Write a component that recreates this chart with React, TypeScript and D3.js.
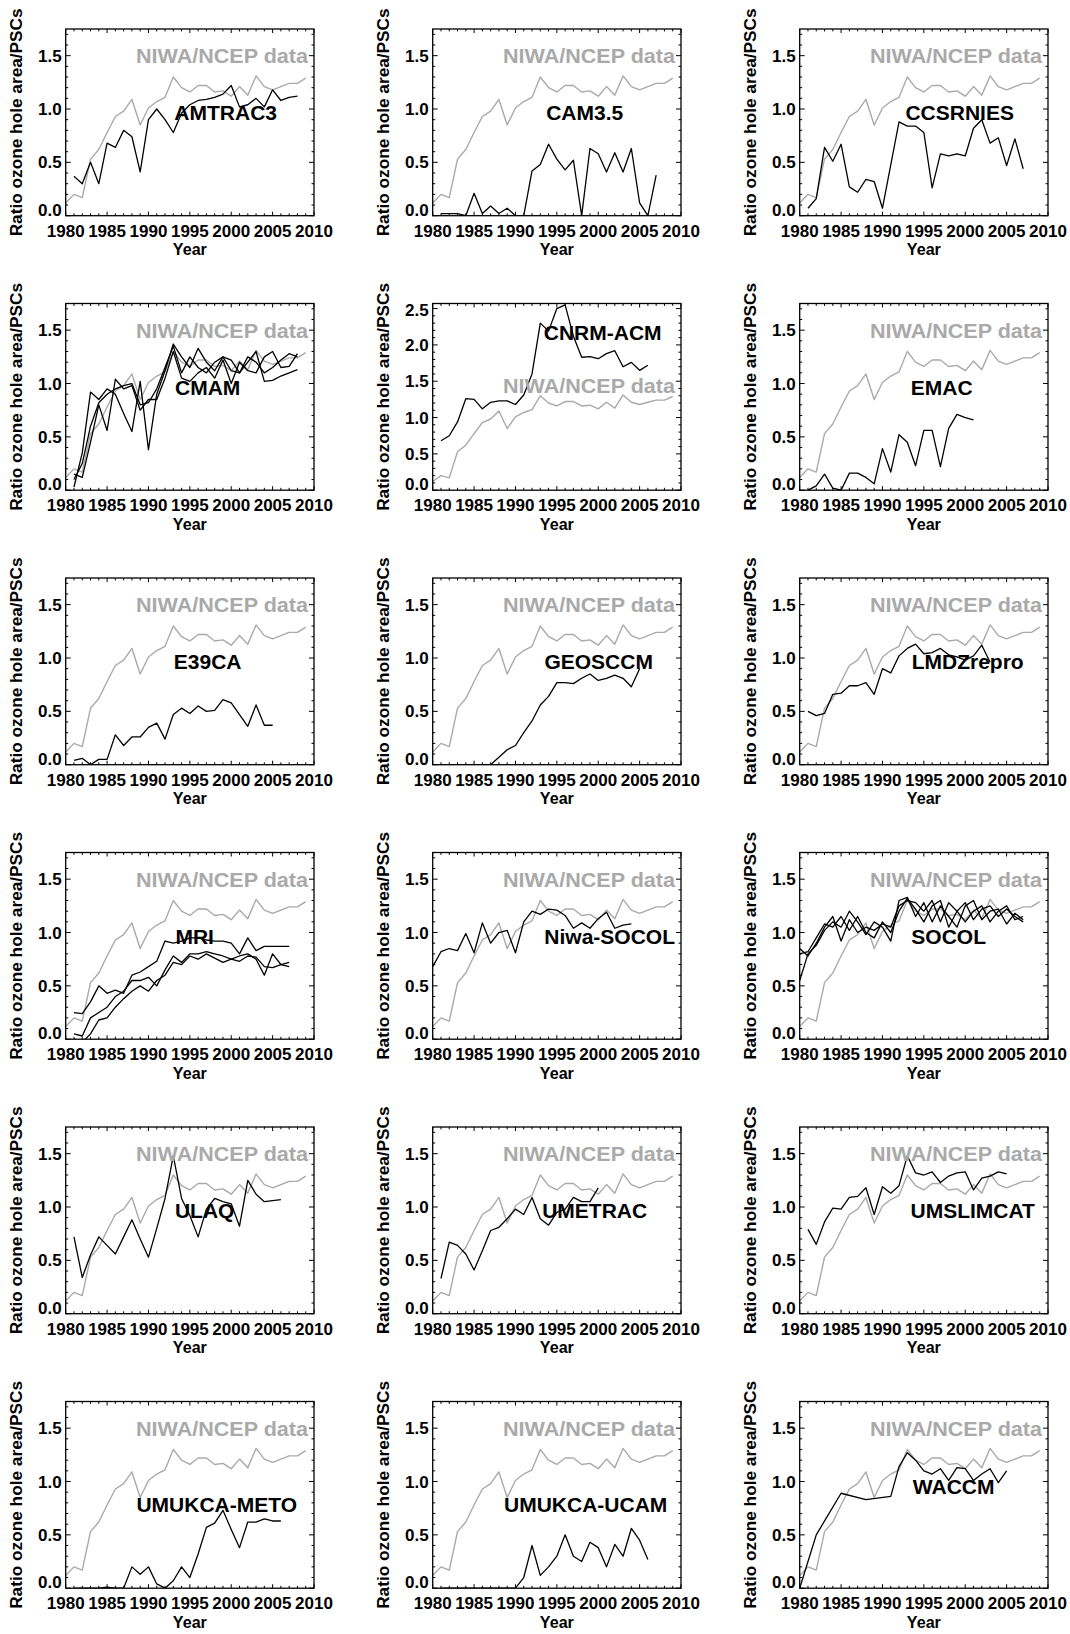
import * as d3 from "d3";

// Ratio of ozone hole area to PSC area, observations (NIWA/NCEP), 1980-2009
const NIWA_START = 1980;
const niwa = [0.12, 0.2, 0.17, 0.53, 0.62, 0.78, 0.93, 0.98, 1.09, 0.85, 1.01, 1.07, 1.11, 1.3, 1.2, 1.16, 1.22, 1.22, 1.16, 1.17, 1.12, 1.21, 1.13, 1.31, 1.21, 1.18, 1.21, 1.24, 1.24, 1.29];

// model series (first year given next to each)
const amtrac3 = [0.37, 0.3, 0.5, 0.3, 0.68, 0.64, 0.8, 0.74, 0.41, 0.9, 1.0, 0.9, 0.78, 0.96, 1.04, 1.08, 1.09, 1.11, 1.14, 1.22, 1.02, 1.04, 1.1, 1.02, 1.18, 1.08, 1.11, 1.12]; // 1981
const cam35 = [0.02, 0.02, 0.02, 0.0, 0.21, 0.02, 0.09, 0.02, 0.07, 0.0, 0.0, 0.42, 0.48, 0.67, 0.53, 0.43, 0.52, 0.0, 0.63, 0.58, 0.41, 0.59, 0.41, 0.63, 0.12, 0.0, 0.38]; // 1981
const ccsrnies = [0.07, 0.16, 0.64, 0.51, 0.67, 0.27, 0.22, 0.34, 0.32, 0.07, null, 0.88, 0.84, 0.84, 0.78, 0.26, 0.58, 0.56, 0.58, 0.56, 0.82, 0.9, 0.68, 0.73, 0.47, 0.72, 0.44]; // 1981
const cmamA = [0.03, 0.35, 0.92, 0.85, 0.95, 0.9, 0.72, 0.55, 1.02, 0.38, 0.9, 1.12, 1.37, 1.25, 1.15, 1.33, 1.2, 1.12, 1.25, 1.22, 1.1, 1.2, 1.3, 1.02, 1.03, 1.07, 1.1, 1.13]; // 1981
const cmamB = [0.15, 0.12, 0.45, 0.8, 0.56, 1.04, 0.95, 0.98, 0.75, 0.85, 0.85, 1.05, 1.3, 1.05, 1.02, 1.1, 1.15, 1.05, 1.22, 1.0, 1.2, 1.12, 1.1, 1.25, 1.3, 1.15, 1.16, 1.28];
const cmamC = [0.1, 0.25, 0.6, 0.82, 0.9, 0.95, 0.98, 1.0, 0.8, 0.82, 0.95, 1.15, 1.35, 1.1, 1.25, 1.15, 1.1, 1.2, 1.25, 1.12, 1.1, 1.25, 1.2, 1.1, 1.15, 1.22, 1.28, 1.25];
const cnrmAcm = [0.68, 0.75, 0.94, 1.26, 1.25, 1.12, 1.21, 1.23, 1.23, 1.18, 1.31, 1.6, 2.3, 2.19, 2.5, 2.55, 2.12, 1.83, 1.84, 1.81, 1.88, 1.92, 1.7, 1.76, 1.65, 1.72]; // 1981
const emac = [0.0, 0.04, 0.15, 0.02, 0.0, 0.16, 0.16, 0.12, 0.06, 0.39, 0.17, 0.52, 0.45, 0.23, 0.56, 0.56, 0.22, 0.58, 0.71, 0.68, 0.66]; // 1981
const e39ca = [0.04, 0.06, 0.0, 0.05, 0.05, 0.28, 0.18, 0.26, 0.26, 0.35, 0.39, 0.24, 0.47, 0.53, 0.48, 0.55, 0.5, 0.51, 0.61, 0.58, 0.47, 0.36, 0.56, 0.37, 0.37]; // 1981
const geosccm = [0, 0, 0, 0, 0, 0, 0, 0.07, 0.14, 0.18, 0.3, 0.41, 0.56, 0.64, 0.77, 0.77, 0.76, 0.81, 0.85, 0.79, 0.81, 0.84, 0.81, 0.73, 0.9]; // 1981
const lmdzrepro = [0.5, 0.46, 0.48, 0.66, 0.67, 0.74, 0.74, 0.77, 0.66, 0.9, 0.86, 1.02, 1.09, 1.13, 1.04, 1.05, 1.09, 1.03, 1.01, 0.98, 1.02, 1.12, 0.96]; // 1981
const mriA = [0.25, 0.24, 0.35, 0.5, 0.43, 0.46, 0.43, 0.6, 0.63, 0.68, 0.73, 0.92, 0.9, 0.92, 0.95, 0.95, 0.93, 0.92, 0.92, 0.9, 0.8, 0.95, 0.83, 0.87, 0.87, 0.87, 0.87]; // 1981
const mriB = [0.05, 0.03, 0.2, 0.25, 0.3, 0.4, 0.45, 0.55, 0.55, 0.58, 0.5, 0.65, 0.78, 0.72, 0.8, 0.8, 0.82, 0.8, 0.78, 0.75, 0.78, 0.8, 0.75, 0.6, 0.8, 0.7, 0.68];
const mriC = [0.0, -0.03, 0.05, 0.18, 0.2, 0.3, 0.38, 0.45, 0.5, 0.45, 0.55, 0.6, 0.72, 0.7, 0.78, 0.75, 0.8, 0.76, 0.72, 0.75, 0.73, 0.78, 0.77, 0.68, 0.67, 0.7, 0.72];
const niwaSocol = [0.68, 0.82, 0.85, 0.83, 0.99, 0.81, 1.09, 0.9, 1.0, 1.02, 0.81, 1.1, 1.2, 1.17, 1.22, 1.21, 1.16, 1.04, 1.09, 1.04, 1.13, 1.19, 1.04, 1.07, 1.08]; // 1980
const socolA = [0.55, 0.8, 0.88, 1.02, 1.1, 1.05, 1.2, 1.1, 0.98, 1.1, 1.05, 0.92, 1.3, 1.33, 1.15, 1.28, 1.1, 1.25, 1.15, 1.05, 1.25, 1.3, 1.12, 1.2, 1.22, 1.08, 1.18, 1.12]; // 1980
const socolB = [0.85, 0.78, 0.9, 1.05, 1.15, 0.92, 1.12, 1.0, 1.05, 1.02, 1.08, 1.05, 1.25, 1.3, 1.28, 1.2, 1.3, 1.1, 1.28, 1.2, 1.1, 1.2, 1.25, 1.1, 1.2, 1.25, 1.12, 1.15];
const socolC = [0.8, 0.82, 0.95, 1.08, 1.05, 1.15, 1.02, 1.15, 1.0, 0.95, 1.1, 1.0, 1.2, 1.32, 1.22, 1.1, 1.25, 1.3, 1.05, 1.2, 1.28, 1.12, 1.22, 1.25, 1.15, 1.22, 1.15, 1.1];
const ulaq = [0.72, 0.34, 0.55, 0.72, 0.64, 0.56, 0.72, 0.88, 0.7, 0.53, 0.8, 1.08, 1.48, 1.08, 0.92, 0.72, 0.98, 1.08, 1.05, 1.03, 0.82, 1.25, 1.12, 1.05, 1.06, 1.07]; // 1981
const umetrac = [0.33, 0.67, 0.64, 0.56, 0.41, 0.59, 0.78, 0.81, 0.89, 0.98, 0.93, 1.09, 0.89, 0.83, 0.95, 0.98, 1.09, 1.05, 1.05, 1.18]; // 1981
const umslimcat = [0.79, 0.65, 0.86, 0.99, 0.98, 1.09, 1.1, 1.18, 0.93, 1.19, 1.13, 1.2, 1.48, 1.32, 1.3, 1.33, 1.23, 1.29, 1.32, 1.33, 1.16, 1.27, 1.29, 1.33, 1.31]; // 1981
const umukcaMeto = [0, 0, 0, 0, 0.01, 0, 0, 0.2, 0.13, 0.2, 0.04, 0.0, 0.07, 0.2, 0.1, 0.32, 0.57, 0.61, 0.73, 0.55, 0.38, 0.62, 0.62, 0.65, 0.63, 0.63]; // 1981
const umukcaUcam = [0, 0, 0, 0, 0, 0, 0, 0, 0, 0, 0.1, 0.4, 0.12, 0.2, 0.3, 0.5, 0.3, 0.25, 0.43, 0.38, 0.2, 0.41, 0.3, 0.56, 0.45, 0.27]; // 1981
const waccmYears = [1980, 1982, 1985, 1988, 1991, 1992, 1993, 1994, 1995, 1996, 1997, 1998, 1999, 2000, 2001, 2002, 2003, 2004, 2005];
const waccm = [0.0, 0.5, 0.89, 0.83, 0.86, 1.14, 1.27, 1.2, 1.1, 1.07, 1.12, 1.01, 1.13, 1.12, 1.01, 1.07, 1.12, 0.99, 1.1];

const xTicks = [1980, 1985, 1990, 1995, 2000, 2005, 2010];

type Pt = [number, number];
const pts = (start: number, values: (number | null)[]): Pt[] =>
  values.flatMap((v, i) => (v === null ? [] : [[start + i, v] as Pt]));

interface PanelDef {
  name: string;
  series: Pt[][];
  yTop: number;
}

const panels: PanelDef[] = [
  { name: "AMTRAC3", series: [pts(1981, amtrac3)], yTop: 1.75 },
  { name: "CAM3.5", series: [pts(1981, cam35)], yTop: 1.75 },
  { name: "CCSRNIES", series: [pts(1981, ccsrnies)], yTop: 1.75 },
  { name: "CMAM", series: [pts(1981, cmamA), pts(1981, cmamB), pts(1981, cmamC)], yTop: 1.75 },
  { name: "CNRM-ACM", series: [pts(1981, cnrmAcm)], yTop: 2.57 },
  { name: "EMAC", series: [pts(1981, emac)], yTop: 1.75 },
  { name: "E39CA", series: [pts(1981, e39ca)], yTop: 1.75 },
  { name: "GEOSCCM", series: [pts(1981, geosccm)], yTop: 1.75 },
  { name: "LMDZrepro", series: [pts(1981, lmdzrepro)], yTop: 1.75 },
  { name: "MRI", series: [pts(1981, mriA), pts(1981, mriB), pts(1981, mriC)], yTop: 1.75 },
  { name: "Niwa-SOCOL", series: [pts(1980, niwaSocol)], yTop: 1.75 },
  { name: "SOCOL", series: [pts(1980, socolA), pts(1980, socolB), pts(1980, socolC)], yTop: 1.75 },
  { name: "ULAQ", series: [pts(1981, ulaq)], yTop: 1.75 },
  { name: "UMETRAC", series: [pts(1981, umetrac)], yTop: 1.75 },
  { name: "UMSLIMCAT", series: [pts(1981, umslimcat)], yTop: 1.75 },
  { name: "UMUKCA-METO", series: [pts(1981, umukcaMeto)], yTop: 1.75 },
  { name: "UMUKCA-UCAM", series: [pts(1981, umukcaUcam)], yTop: 1.75 },
  { name: "WACCM", series: [waccmYears.map((y, i) => [y, waccm[i]] as Pt)], yTop: 1.75 }
];

// layout (pixels, relative to each frame)
const labelCenterX = [160, 152, 160, 142, 170, 142, 142, 166, 168, 129, 177, 149, 139, 162, 173, 151, 153, 154];
const labelBaseline = [91, 91, 91, 91, 36, 91, 91, 91, 91, 91, 91, 91, 91, 91, 91, 110, 110, 92];
const niwaBaseline = [34, 34, 34, 34, 89, 34, 34, 34, 34, 34, 34, 34, 34, 34, 34, 34, 34, 34];

const W = 1070;
const H = 1634;
const COL_LEFT = [65.7, 432.7, 799.7];
const ROW_TOP = 29;
const ROW_STEP = 274.5;
const PW = 248.3;
const PH = 186.7;
const FONT = "'Liberation Sans', Arial, Helvetica, sans-serif";
const GRAY = "#a9a9a9";

function Panel({ p, index }: { p: PanelDef; index: number }) {
  const left = COL_LEFT[index % 3];
  const top = ROW_TOP + Math.floor(index / 3) * ROW_STEP;
  const bottom = top + PH;
  const right = left + PW;

  const x = d3.scaleLinear().domain([1980, 2010]).range([left, right]);
  const y = d3.scaleLinear().domain([0, p.yTop]).range([bottom, top]);
  const line = d3
    .line<Pt>()
    .x((d) => x(d[0]))
    .y((d) => y(d[1]));

  const yMajor = d3.range(0, p.yTop + 1e-9, 0.5);
  const yMinor = d3.range(0, p.yTop, 0.1).filter((v) => Math.abs(v / 0.5 - Math.round(v / 0.5)) > 1e-6);
  const xMinor = d3.range(1980, 2011).filter((v) => v % 5 !== 0);
  const niwaPts = pts(NIWA_START, niwa);
  const clipId = `clip-${index}`;

  return (
    <g>
      <clipPath id={clipId}>
        <rect x={left} y={top} width={PW} height={PH} />
      </clipPath>
      <g clipPath={`url(#${clipId})`} fill="none" strokeLinejoin="round">
        <path d={line(niwaPts) ?? ""} stroke={GRAY} strokeWidth={1.4} />
        {p.series.map((s, i) => (
          <path key={i} d={line(s) ?? ""} stroke="#000" strokeWidth={1.3} />
        ))}
      </g>

      {/* ticks on all four sides, pointing inward */}
      <g stroke="#000" strokeWidth={1}>
        {xTicks.map((t) => (
          <g key={`xt${t}`}>
            <line x1={x(t)} x2={x(t)} y1={bottom} y2={bottom - 4} />
            <line x1={x(t)} x2={x(t)} y1={top} y2={top + 4} />
          </g>
        ))}
        {xMinor.map((t) => (
          <g key={`xm${t}`}>
            <line x1={x(t)} x2={x(t)} y1={bottom} y2={bottom - 2.4} />
            <line x1={x(t)} x2={x(t)} y1={top} y2={top + 2.4} />
          </g>
        ))}
        {yMajor.map((t) => (
          <g key={`yt${t}`}>
            <line x1={left} x2={left + 5} y1={y(t)} y2={y(t)} />
            <line x1={right} x2={right - 5} y1={y(t)} y2={y(t)} />
          </g>
        ))}
        {yMinor.map((t) => (
          <g key={`ym${t}`}>
            <line x1={left} x2={left + 2.5} y1={y(t)} y2={y(t)} />
            <line x1={right} x2={right - 2.5} y1={y(t)} y2={y(t)} />
          </g>
        ))}
      </g>
      <rect x={left} y={top} width={PW} height={PH} fill="none" stroke="#000" strokeWidth={1.3} />

      <g fontFamily={FONT} fontWeight="bold" fill="#000">
        {yMajor.map((t) => {
          const cy = Math.max(top + 6, Math.min(bottom - 6, y(t)));
          return (
            <text key={`yl${t}`} x={left - 4} y={cy + 6} fontSize={17} textAnchor="end">
              {t.toFixed(1)}
            </text>
          );
        })}
        {xTicks.map((t) => (
          <text key={`xl${t}`} x={x(t)} y={bottom + 20.8} fontSize={17} textAnchor="middle">
            {t}
          </text>
        ))}
        <text x={(left + right) / 2} y={bottom + 39.5} fontSize={17} textAnchor="middle" textLength={34} lengthAdjust="spacingAndGlyphs">
          Year
        </text>
        <text
          transform={`translate(${left - 44},${(top + bottom) / 2}) rotate(-90)`}
          fontSize={16.5}
          textAnchor="middle"
          textLength={228}
          lengthAdjust="spacingAndGlyphs"
        >
          Ratio ozone hole area/PSCs
        </text>
        <text
          x={right - 6}
          y={top + niwaBaseline[index]}
          fontSize={21}
          textAnchor="end"
          fill={GRAY}
          textLength={172}
          lengthAdjust="spacingAndGlyphs"
        >
          NIWA/NCEP data
        </text>
        <text x={left + labelCenterX[index]} y={top + labelBaseline[index]} fontSize={21} textAnchor="middle">
          {p.name}
        </text>
      </g>
    </g>
  );
}

export default function App() {
  return (
    <svg
      width={W}
      height={H}
      viewBox={`0 0 ${W} ${H}`}
      style={{ position: "absolute", left: 0, top: 0, background: "#fff" }}
    >
      <rect width={W} height={H} fill="#fff" />
      {panels.map((p, i) => (
        <Panel key={p.name} p={p} index={i} />
      ))}
    </svg>
  );
}
